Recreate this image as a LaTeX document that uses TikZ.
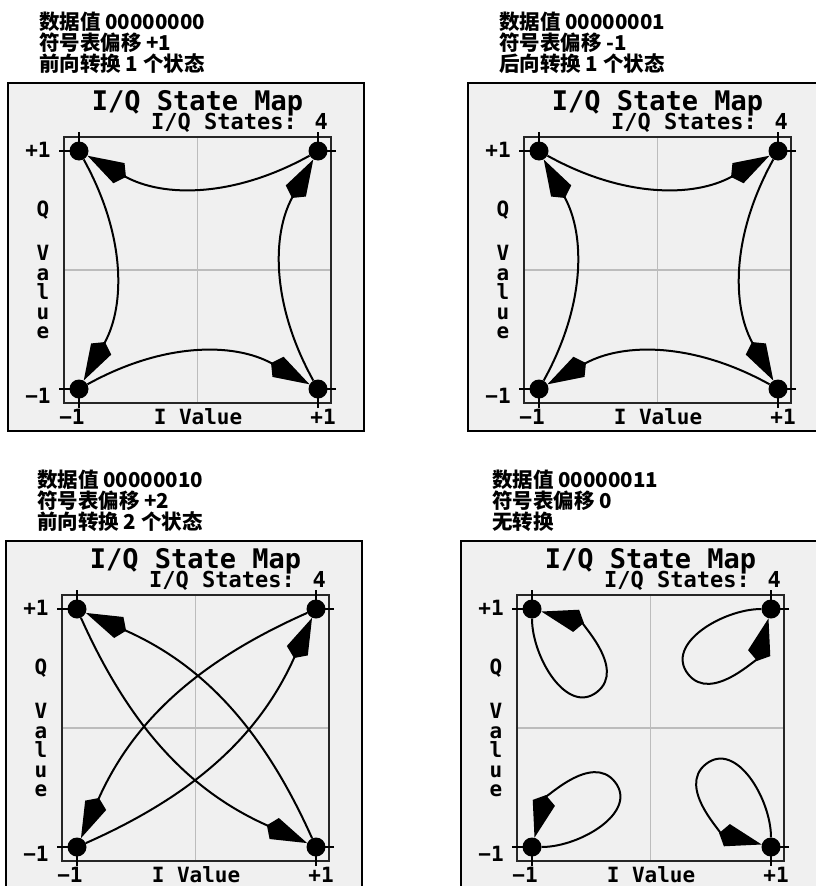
\documentclass[tikz,border=0pt]{standalone}
\usepackage{fontspec}
\setmainfont{Liberation Sans}
\newfontfamily\screenfont{DejaVu Sans Mono}
\newfontfamily\cjkfont{Noto Sans CJK SC}
\usetikzlibrary{arrows.meta}
\definecolor{screengray}{RGB}{240,240,240}
\definecolor{gridgray}{RGB}{188,188,188}

\tikzset{
  statedot/.style={circle,fill=black,inner sep=0pt,minimum size=19pt},
  trans/.style={line width=2pt,-{Kite[length=44pt,width=23pt,inset=8pt]}},
  maptitle/.style={font=\screenfont\bfseries\fontsize{27}{27}\selectfont,inner sep=0pt},
  mapsub/.style={font=\screenfont\bfseries\fontsize{22}{22}\selectfont,inner sep=0pt},
  axislbl/.style={font=\screenfont\bfseries\fontsize{21}{19.5}\selectfont,inner sep=0pt},
  header/.style={font=\cjkfont\bfseries\fontsize{20.5}{21}\selectfont,align=left,
    anchor=north west,inner sep=0pt},
}

% one screen: #1 prefix, #2/#3 top left corner of the frame, #4 header
\newcommand\statemap[4]{%
  \begin{scope}[shift={(#2,-#3)}]
    \node[header] (#1head) at (31,71) {#4};
    \fill[screengray] (0,0) rectangle (356,-348);
    \draw[line width=2.6pt] (0,0) rectangle (356,-348);
    \draw[gridgray,line width=1.3pt] (189.5,-54) -- (189.5,-320) (56,-187) -- (323,-187);
    \draw[black!85,line width=1.6pt] (56,-54) rectangle (323,-320);
    \draw[line width=1.3pt] (71,-49) -- (71,-68) (310,-49) -- (310,-68)
      (71,-325) -- (71,-306) (310,-325) -- (310,-306)
      (51,-68) -- (71,-68) (51,-306) -- (71,-306)
      (328,-68) -- (310,-68) (328,-306) -- (310,-306);
    \node[statedot] (#1tl) at (71,-68) {};
    \node[statedot] (#1tr) at (310,-68) {};
    \node[statedot] (#1bl) at (71,-306) {};
    \node[statedot] (#1br) at (310,-306) {};
    \node[maptitle,anchor=base] (#1title) at (189.5,-27) {I/Q State Map};
    \node[mapsub,anchor=base east] (#1count) at (320,-46) {I/Q States: 4};
    \node[axislbl] (#1qp) at (30,-67) {+1};
    \node[axislbl] (#1qm) at (30,-313) {−1};
    \node[axislbl] (#1q) at (35,-127) {Q};
    \node[axislbl,align=center,anchor=north] (#1qval) at (35,-162) {V\\a\\l\\u\\e};
    \node[axislbl] (#1im) at (64,-334) {−1};
    \node[axislbl] (#1ival) at (190,-334) {I Value};
    \node[axislbl] (#1ip) at (315,-334) {+1};
  \end{scope}}

\begin{document}
\begin{tikzpicture}[x=1pt,y=1pt]
  \useasboundingbox (0,0) rectangle (816,-886);
  \fill[white] (0,0) rectangle (816,-886);
  \clip (0,0) rectangle (816,-886);

  \statemap{a}{8}{83}{数据值 00000000\\符号表偏移 +1\\前向转换 1 个状态}
  \statemap{b}{468}{83}{数据值 00000001\\符号表偏移 -1\\后向转换 1 个状态}
  \statemap{c}{6}{541}{数据值 00000010\\符号表偏移 +2\\前向转换 2 个状态}
  \statemap{d}{461}{541}{数据值 00000011\\符号表偏移 0\\无转换}

  % forward by one
  \draw[trans] (atr) to[bend left=29] (atl);
  \draw[trans] (atl) to[bend left=29] (abl);
  \draw[trans] (abl) to[bend left=29] (abr);
  \draw[trans] (abr) to[bend left=29] (atr);

  % backward by one
  \draw[trans] (btl) to[bend right=29] (btr);
  \draw[trans] (btr) to[bend right=29] (bbr);
  \draw[trans] (bbr) to[bend right=29] (bbl);
  \draw[trans] (bbl) to[bend right=29] (btl);

  % forward by two
  \draw[trans] (ctl) to[bend right=21] (cbr);
  \draw[trans] (ctr) to[bend right=21] (cbl);
  \draw[trans] (cbl) to[bend right=21] (ctr);
  \draw[trans] (cbr) to[bend right=21] (ctl);

  % no change: far ends of the loops
  \path (dtl) ++(65,-83) coordinate (dtlfar);
  \path (dbl) ++(83,65) coordinate (dblfar);
  \path (dbr) ++(-65,83) coordinate (dbrfar);
  \path (dtr) ++(-83,-65) coordinate (dtrfar);
  \draw[trans] (dtl) to[out=-90,in=218] (dtlfar) to[out=38,in=-15] (dtl);
  \draw[trans] (dbl) to[out=0,in=-52] (dblfar) to[out=128,in=75] (dbl);
  \draw[trans] (dbr) to[out=90,in=38] (dbrfar) to[out=218,in=165] (dbr);
  \draw[trans] (dtr) to[out=180,in=128] (dtrfar) to[out=-52,in=-105] (dtr);
\end{tikzpicture}
\end{document}
